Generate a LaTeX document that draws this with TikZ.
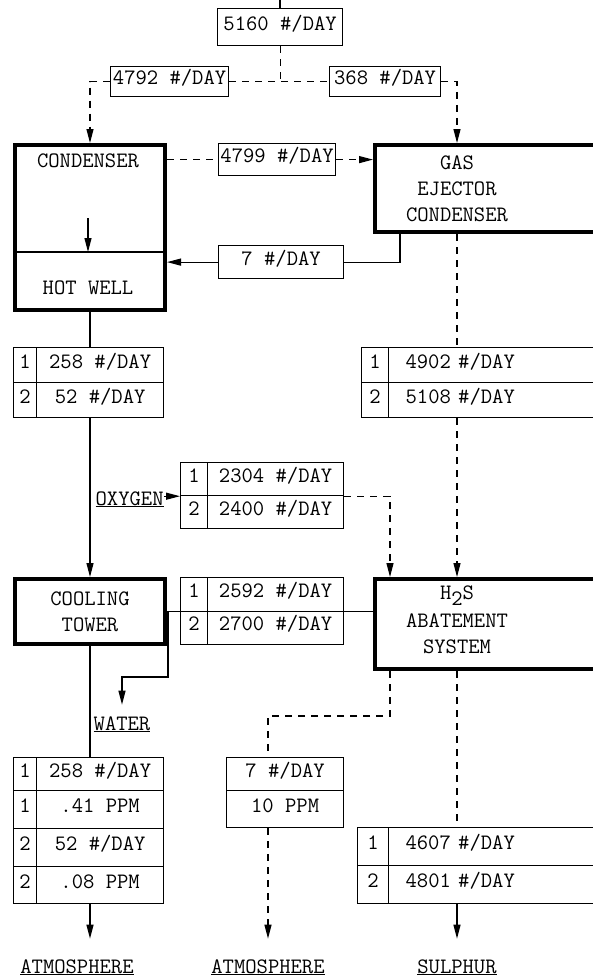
\documentclass[tikz,border=0pt]{standalone}
\usepackage{tikz}
\usetikzlibrary{arrows.meta}

\begin{document}
\begin{tikzpicture}[
    x=1pt, y=-1pt,
    font=\ttfamily\fontsize{22}{26}\selectfont,
    line width=1.2pt,
    unit/.style={draw, line width=4pt, inner sep=0pt, anchor=north west},
    cell/.style={draw, inner sep=0pt, anchor=north west, text height=0.61em, text depth=0pt},
    wide/.style={cell, text width=190pt, inner xsep=17pt, align=left},
    flow/.style={-{Triangle[length=14pt,width=7pt]}},
    dsh/.style={dash pattern=on 7pt off 6pt},
    lbl/.style={inner sep=0pt, align=center},
    outlet/.style={anchor=base, inner sep=0pt}
  ]
  \useasboundingbox (0,0) rectangle (593,978);

  % feed split
  \coordinate (feed) at (280,0);
  \node[cell, minimum width=125, minimum height=37] (total) at (217,8) {5160 \#/DAY};
  \node[cell, minimum width=118, minimum height=30] (tocond) at (110,66) {4792 \#/DAY};
  \node[cell, minimum width=111, minimum height=30] (toejec) at (329,66) {368 \#/DAY};

  % condenser and ejector
  \node[unit, minimum width=150, minimum height=165] (cond) at (13,143) {};
  \node[lbl] (condlbl) at (88,161) {CONDENSER};
  \node[lbl] (well) at (88,288) {HOT WELL};
  \coordinate (sump) at (13,252);
  \coordinate (drip) at (88,218);
  \node[unit, minimum width=240, minimum height=87] (ejec) at (373,143) {};
  \node[lbl, anchor=north] (ejeclbl) at (457,155) {GAS\\EJECTOR\\CONDENSER};
  \node[cell, minimum width=117, minimum height=32] (vent) at (218,143) {4799 \#/DAY};
  \node[cell, minimum width=125, minimum height=33] (drain) at (218,245) {7 \#/DAY};

  % hot well out
  \node[cell, minimum width=23, minimum height=35] (hw1n) at (13,347) {1};
  \node[cell, minimum width=127, minimum height=35] (hw1v) at (36,347) {258 \#/DAY};
  \node[cell, minimum width=23, minimum height=35] (hw2n) at (13,382) {2};
  \node[cell, minimum width=127, minimum height=35] (hw2v) at (36,382) {52 \#/DAY};

  % ejector out
  \node[cell, minimum width=27, minimum height=35] (ej1n) at (361,347) {1};
  \node[wide, minimum height=35] (ej1v) at (388,347) {4902 \#/DAY};
  \node[cell, minimum width=27, minimum height=35] (ej2n) at (361,382) {2};
  \node[wide, minimum height=35] (ej2v) at (388,382) {5108 \#/DAY};

  % oxygen
  \node[outlet, anchor=base west] (oxy) at (95,505) {\underline{OXYGEN}};
  \node[cell, minimum width=27, minimum height=33] (ox1n) at (180,462) {1};
  \node[cell, minimum width=136, minimum height=33] (ox1v) at (207,462) {2304 \#/DAY};
  \node[cell, minimum width=27, minimum height=33] (ox2n) at (180,495) {2};
  \node[cell, minimum width=136, minimum height=33] (ox2v) at (207,495) {2400 \#/DAY};

  % cooling tower and abatement
  \node[unit, minimum width=150, minimum height=65, align=center] (tower) at (13,577) {COOLING\\TOWER};
  \node[cell, minimum width=27, minimum height=33.5] (ct1n) at (180,577) {1};
  \node[cell, minimum width=136, minimum height=33.5] (ct1v) at (207,577) {2592 \#/DAY};
  \node[cell, minimum width=27, minimum height=33.5] (ct2n) at (180,610.5) {2};
  \node[cell, minimum width=136, minimum height=33.5] (ct2v) at (207,610.5) {2700 \#/DAY};
  \node[unit, minimum width=240, minimum height=90] (h2s) at (373,577) {};
  \node[lbl, anchor=north] (h2slbl) at (457,585) {H\raisebox{-.3em}{2}S\\[2pt]ABATEMENT\\SYSTEM};
  \node[outlet] (water) at (122,730) {\underline{WATER}};
  \coordinate (bend) at (168,677);

  % tower exhaust
  \node[cell, minimum width=23, minimum height=33] (tw1n) at (13,757) {1};
  \node[cell, minimum width=127, minimum height=33] (tw1v) at (36,757) {258 \#/DAY};
  \node[cell, minimum width=23, minimum height=38] (tw2n) at (13,790) {1};
  \node[cell, minimum width=127, minimum height=38] (tw2v) at (36,790) {.41 PPM};
  \node[cell, minimum width=23, minimum height=38] (tw3n) at (13,828) {2};
  \node[cell, minimum width=127, minimum height=38] (tw3v) at (36,828) {52 \#/DAY};
  \node[cell, minimum width=23, minimum height=37] (tw4n) at (13,866) {2};
  \node[cell, minimum width=127, minimum height=37] (tw4v) at (36,866) {.08 PPM};

  % stack
  \node[cell, minimum width=117, minimum height=33] (st1) at (226,757) {7 \#/DAY};
  \node[cell, minimum width=117, minimum height=37] (st2) at (226,790) {10 PPM};

  % sulphur
  \node[cell, minimum width=31, minimum height=38] (su1n) at (357,827) {1};
  \node[wide, minimum height=38] (su1v) at (388,827) {4607 \#/DAY};
  \node[cell, minimum width=31, minimum height=38] (su2n) at (357,865) {2};
  \node[wide, minimum height=38] (su2v) at (388,865) {4801 \#/DAY};

  \node[outlet] (atm1) at (77,973) {\underline{ATMOSPHERE}};
  \node[outlet] (atm2) at (268,973) {\underline{ATMOSPHERE}};
  \node[outlet] (sul) at (457,973) {\underline{SULPHUR}};

  % connectors
  \draw (feed) -- (feed |- total.north);
  \coordinate (split) at (total.south |- tocond.east);
  \draw[dsh] (total.south) -- (split);
  \draw[dsh] (tocond.east) -- (toejec.west);
  \draw[dsh, flow] (tocond.west) -| (cond.north);
  \draw[dsh, flow] (toejec.east) -| (ejec.north -| ejeclbl);
  \draw[dsh] (cond.east |- vent.west) -- (vent.west);
  \draw[dsh, flow] (vent.east) -- (ejec.west |- vent.east);
  \draw (drain.east) -| ([xshift=27pt]ejec.south west);
  \draw[flow] (drain.west) -- (cond.east |- drain.west);
  \draw (cond.west |- sump) -- (cond.east |- sump);
  \draw[flow] (drip) -- (drip |- sump);
  \draw (cond.south) -- (hw1v.north -| cond.south);
  \draw[dsh] (ejec.south -| ejeclbl) -- (ej1v.north -| ejeclbl);
  \draw[flow] (hw2v.south -| cond.south) -- (tower.north);
  \draw[dsh, flow] (ej2v.south -| ejeclbl) -- (h2s.north -| ejeclbl);
  \draw[flow] (oxy.east |- ox1n.south west) -- (ox1n.south west);
  \draw[dsh, flow] (ox1v.south east) -| ([xshift=17pt]h2s.north west);
  \draw[flow, shorten >=11pt] (h2s.west |- ct1n.south west) -- (bend |- ct1n.south west) -- (bend) -| (water.north);
  \draw[dsh] ([xshift=17pt]h2s.south west) -- ++(0,45) -| (st1.north -| atm2);
  \draw[dsh] (h2s.south -| h2slbl) -- (su1v.north -| h2slbl);
  \draw (tower.south) -- (tw1v.north -| tower.south);
  \draw[flow, shorten >=20pt] (tw4v.south -| tower.south) -- (tower.south |- atm1.north);
  \draw[dsh, flow, shorten >=20pt] (st2.south -| atm2) -- (atm2.north);
  \draw[flow, shorten >=20pt] (su2v.south -| h2slbl) -- (h2slbl |- sul.north);
\end{tikzpicture}
\end{document}
